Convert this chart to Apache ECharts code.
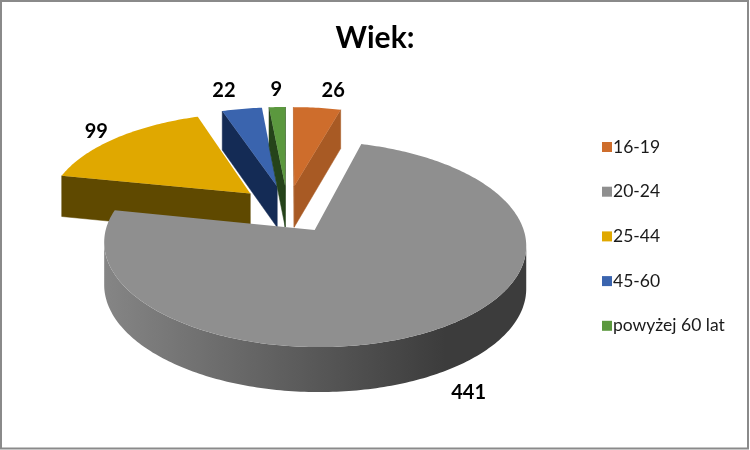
<!DOCTYPE html>
<html>
<head>
<meta charset="utf-8">
<style>html,body{margin:0;padding:0;background:#fff}#c{width:750px;height:450px}</style>
<script src="https://cdn.jsdelivr.net/npm/echarts@6/dist/echarts.min.js"></script>
</head>
<body>
<div id="c"></div>
<script>
var categories = ['16-19', '20-24', '25-44', '45-60', 'powyżej 60 lat'];
var values = [26, 441, 99, 22, 9];
var faceColors = ['#CE6D2C', '#8F8F8F', '#E0A800', '#3A64AE', '#5B983E'];
var wallColors = ['#A85A24', '#5F5F5F', '#5F4900', '#142B55', '#25431A'];
var drawOrder = [2, 3, 4, 0, 1];
var labelNudges = [[16, -17], [27, 20], [-20, -6], [-18, -18], [-1, -18]];

var view = { cx: 287.5, cy: 209, a: 203, b: 95.3, p: 0.134, depth: 41.7, q: 0.06, explode: 0.25 };
var total = values.reduce(function (s, v) { return s + v; }, 0);

function sliceAngles(i) {
  var before = values.slice(0, i).reduce(function (s, v) { return s + v; }, 0);
  return [before / total * 2 * Math.PI, (before + values[i]) / total * 2 * Math.PI];
}
function project(X, Y, lower) {
  var w = 1 + view.p * Y;
  var d = lower ? view.depth / (1 + view.q * Y) : 0;
  return [view.cx + view.a * X / w, view.cy - view.b * Y / w + d];
}
function area(pts) {
  var s = 0;
  for (var i = 0; i < pts.length; i++) {
    var a = pts[i], b = pts[(i + 1) % pts.length];
    s += a[0] * b[1] - b[0] * a[1];
  }
  return s / 2;
}
function renderSlice(params, api) {
  var i = categories.indexOf(params.seriesName);
  var range = sliceAngles(i);
  var mid = (range[0] + range[1]) / 2;
  var ox = view.explode * Math.sin(mid), oy = view.explode * Math.cos(mid);
  var steps = Math.max(8, Math.ceil((range[1] - range[0]) * 60));
  var rim = [];
  for (var k = 0; k <= steps; k++) {
    var t = range[0] + (range[1] - range[0]) * k / steps;
    rim.push([ox + Math.sin(t), oy + Math.cos(t)]);
  }
  var apex = [ox, oy];
  var up = function (m) { return project(m[0], m[1], false); };
  var dn = function (m) { return project(m[0], m[1], true); };
  var children = [];
  function wall(m1, m2) {
    var poly = [up(m1), up(m2), dn(m2), dn(m1)];
    if (area(poly) < 0) {
      children.push({ type: 'polygon', shape: { points: poly },
        style: { fill: wallColors[i], stroke: wallColors[i], lineWidth: 0.5 } });
    }
  }
  wall(apex, rim[0]);
  wall(rim[steps], apex);
  var run = [];
  function flushRun() {
    if (!run.length) return;
    var top = run.map(up);
    var bottom = run.map(dn).reverse();
    var fill = wallColors[i];
    if (i === 1) {
      fill = new echarts.graphic.LinearGradient(105, 0, 445, 0, [
        { offset: 0, color: '#858585' }, { offset: 1, color: '#3C3C3C' }
      ], true);
    }
    children.push({ type: 'polygon', shape: { points: top.concat(bottom) }, style: { fill: fill } });
    run = [];
  }
  for (var n = 0; n < steps; n++) {
    var poly = [up(rim[n]), up(rim[n + 1]), dn(rim[n + 1]), dn(rim[n])];
    if (area(poly) < 0) {
      if (!run.length) run.push(rim[n]);
      run.push(rim[n + 1]);
    } else {
      flushRun();
    }
  }
  flushRun();
  children.push({ type: 'polygon', shape: { points: [up(apex)].concat(rim.map(up)) },
    style: { fill: faceColors[i] } });
  var lab = up([ox + Math.sin(mid), oy + Math.cos(mid)]);
  var extra = i === 1 ? dn([ox + Math.sin(mid), oy + Math.cos(mid)])[1] - lab[1] : 0;
  children.push({ type: 'text', style: {
    text: String(api.value(0)),
    x: lab[0] + labelNudges[i][0],
    y: lab[1] + extra + labelNudges[i][1],
    align: 'center', verticalAlign: 'middle',
    font: 'bold 20px Lato', fill: '#000'
  } });
  return { type: 'group', children: children };
}

var chart = echarts.init(document.getElementById('c'), null, { renderer: 'canvas' });
chart.setOption({
  animation: false,
  backgroundColor: '#fff',
  title: {
    text: 'Wiek:', left: 'center', top: 18,
    textStyle: { fontFamily: 'Lato', fontWeight: 'bold', fontSize: 30, color: '#000' }
  },
  legend: {
    orient: 'vertical', left: 597, top: 133,
    icon: 'rect', itemWidth: 10, itemHeight: 10, itemGap: 26.7,
    data: categories,
    selectedMode: false,
    textStyle: { fontFamily: 'Lato', fontSize: 17.5, color: '#1a1a1a', padding: [0, 0, 0, -4] }
  },
  graphic: [{
    type: 'rect', silent: true, z: -1,
    shape: { x: 1, y: 1, width: 747, height: 447.5 },
    style: { fill: 'none', stroke: '#8a8a8a', lineWidth: 2 }
  }],
  series: drawOrder.map(function (idx, order) {
    return {
      type: 'custom', name: categories[idx], coordinateSystem: 'none', z: 2 + order,
      silent: true, renderItem: renderSlice,
      itemStyle: { color: faceColors[idx] },
      data: [[values[idx]]]
    };
  })
});
</script>
</body>
</html>
